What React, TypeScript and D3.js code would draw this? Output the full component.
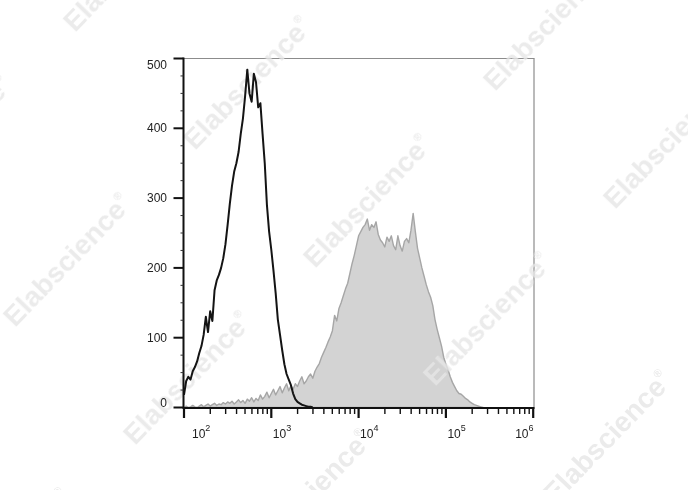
import React from 'react';
import * as d3 from 'd3';

// ---- data ----
const X_DECADES = [2, 3, 4, 5, 6];
const MINOR_MULT = [2, 3, 4, 5, 6, 7, 8, 9];
const Y_TICKS = [0, 100, 200, 300, 400, 500];
const Y_MINOR = [25, 50, 75, 125, 150, 175, 225, 250, 275, 325, 350, 375, 425, 450, 475];

// histogram bins (log10 of fluorescence), first bin and bin width
const BIN_START_LOG = 2.0;
const BIN_WIDTH_LOG = 0.025;

// isotype control (black open histogram)
const isotypeCounts = [
  18, 38, 44, 40, 52, 58, 66, 78, 88, 104,
  130, 108, 138, 124, 168, 182, 190, 200, 214, 234,
  262, 292, 318, 338, 350, 366, 392, 414, 446, 484,
  450, 438, 478, 466, 430, 436, 392, 350, 290, 252,
  226, 196, 164, 126, 104, 82, 62, 48, 40, 32,
  20, 12, 8, 6, 4, 3, 2, 1, 1, 0,
];

// stained sample (grey filled histogram)
const stainedCounts = [
  0, 2, 0, 1, 3, 1, 0, 2, 4, 1,
  3, 5, 2, 4, 6, 3, 5, 4, 7, 5,
  8, 6, 9, 5, 8, 11, 7, 10, 6, 12,
  9, 14, 8, 13, 10, 18, 12, 16, 22, 14,
  20, 26, 18, 24, 30, 21, 28, 34, 24, 31,
  26, 34, 30, 38, 44, 34, 38, 44, 48, 42,
  52, 58, 63, 72, 79, 86, 94, 101, 110, 132,
  124, 142, 150, 160, 170, 178, 192, 206, 218, 232,
  246, 252, 258, 262, 270, 254, 262, 258, 266, 248,
  240, 236, 230, 244, 238, 246, 232, 226, 246, 232,
  224, 238, 242, 236, 254, 278, 252, 228, 214, 200,
  188, 176, 166, 158, 146, 126, 112, 100, 88, 72,
  62, 54, 44, 36, 30, 24, 20, 19, 16, 13,
  11, 8, 6, 4, 3, 2, 1, 0,
];

const WATERMARK = 'Elabscience';

export default function App() {
  const W = 688;
  const H = 490;
  const left = 183.5;
  const right = 533.5;
  const top = 58.5;
  const axisY = 408;

  const x = d3.scaleLog().domain([1e2, 1e6]).range([184, 533.2]);
  const y = d3.scaleLinear().domain([0, 500]).range([407.5, 58.5]);

  const binX = (i: number) => x(Math.pow(10, BIN_START_LOG + i * BIN_WIDTH_LOG));

  const area = d3
    .area<number>()
    .x((_, i) => binX(i))
    .y0(y(0))
    .y1((d) => y(d));
  const line = d3
    .line<number>()
    .x((_, i) => binX(i))
    .y((d) => y(d));

  // watermark lattice
  const marks: { x: number; y: number }[] = [];
  for (let r = -2; r <= 3; r++) {
    for (let c = -3; c <= 6; c++) {
      const px = 195 + c * 120 + r * 180;
      const py = 151 + c * 118 - r * 177;
      if (px > -220 && px < 700 && py > -10 && py < 700) marks.push({ x: px, y: py });
    }
  }

  const font = '"Liberation Sans", Arial, sans-serif';

  const minorX: number[] = [];
  X_DECADES.slice(0, -1).forEach((d) =>
    MINOR_MULT.forEach((m) => minorX.push(m * Math.pow(10, d)))
  );

  return (
    <svg
      width={W}
      height={H}
      style={{ position: 'absolute', left: 0, top: 0, background: '#fff' }}
    >
      <rect x={0} y={0} width={W} height={H} fill="#fff" />
      {/* frame (top/right) */}
      <line x1={left} x2={right + 1} y1={top} y2={top} stroke="#8c8c8c" strokeWidth={1.2} />
      <line x1={right + 0.5} x2={right + 0.5} y1={top} y2={axisY} stroke="#8c8c8c" strokeWidth={1.2} />

      {/* stained histogram */}
      <path d={area(stainedCounts) || ''} fill="#d3d3d3" stroke="#a6a6a6" strokeWidth={1.4} strokeLinejoin="round" />

      {/* watermarks */}
      <g fontFamily={font} fontWeight="bold" fontSize={28} fill="#e6e6e6" opacity={0.8}>
        {marks.map((m, i) => (
          <text key={i} transform={`translate(${m.x},${m.y}) rotate(-46)`}>
            {WATERMARK}
            <tspan fontSize={11} dy={-14}>®</tspan>
          </text>
        ))}
      </g>

      {/* isotype histogram */}
      <path d={line(isotypeCounts) || ''} fill="none" stroke="#141414" strokeWidth={2} strokeLinejoin="round" />

      {/* y axis */}
      <line x1={left} x2={left} y1={top - 1} y2={axisY} stroke="#111" strokeWidth={2} />
      {Y_TICKS.map((t) => (
        <line key={t} x1={left - 10} x2={left} y1={y(t)} y2={y(t)} stroke="#111" strokeWidth={2} />
      ))}
      {Y_MINOR.map((t) => (
        <line key={t} x1={left - 3} x2={left} y1={y(t)} y2={y(t)} stroke="#333" strokeWidth={1} />
      ))}
      {Y_TICKS.map((t, i) => (
        <text
          key={t}
          x={167}
          y={y(t) + (i === Y_TICKS.length - 1 ? 6.5 : i === 0 ? -5 : 0)}
          textAnchor="end"
          dominantBaseline="central"
          fontFamily={font}
          fontSize={12}
          fill="#222"
        >
          {t}
        </text>
      ))}

      {/* x axis */}
      <line x1={left - 1} x2={right + 1} y1={axisY} y2={axisY} stroke="#111" strokeWidth={2} />
      {X_DECADES.map((d) => (
        <line key={d} x1={x(Math.pow(10, d))} x2={x(Math.pow(10, d))} y1={axisY} y2={axisY + 10} stroke="#111" strokeWidth={2.2} />
      ))}
      {minorX.map((v, i) => (
        <line key={i} x1={x(v)} x2={x(v)} y1={axisY} y2={axisY + 6} stroke="#111" strokeWidth={1.4} />
      ))}
      {X_DECADES.map((d, i) => {
        const tx = x(Math.pow(10, d));
        const last = i === X_DECADES.length - 1;
        const first = i === 0;
        const start = first ? tx + 8 : last ? tx - 18 : tx + 1.5;
        return (
          <text key={d} x={start} y={438} fontFamily={font} fontSize={12} fill="#222">
            10
            <tspan fontSize={9} dy={-7}>{d}</tspan>
          </text>
        );
      })}
    </svg>
  );
}
